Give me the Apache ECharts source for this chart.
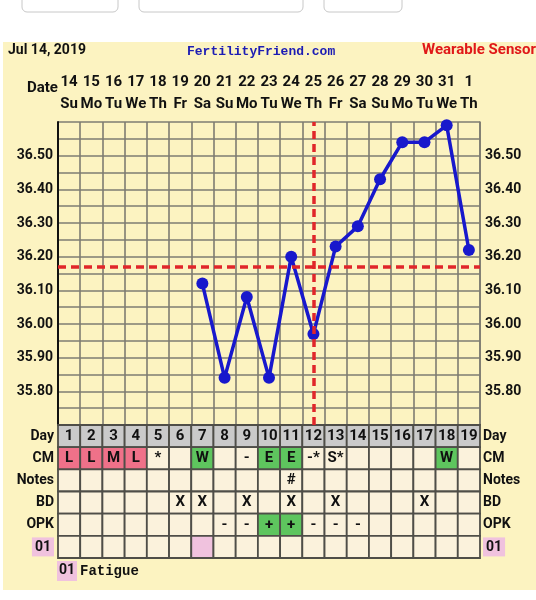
<!DOCTYPE html>
<html>
<head>
<meta charset="utf-8">
<script src="https://cdn.jsdelivr.net/npm/echarts@6.0.0/dist/echarts.min.js"></script>
<style>
html, body { margin: 0; padding: 0; background: #fff; }
#main { width: 536px; height: 600px; }
</style>
</head>
<body>
<div id="main"></div>
<script>
// cycle dates along the top
const dates = ['14', '15', '16', '17', '18', '19', '20', '21', '22', '23', '24', '25', '26', '27', '28', '29', '30', '31', '1'];
const weekdays = ['Su', 'Mo', 'Tu', 'We', 'Th', 'Fr', 'Sa', 'Su', 'Mo', 'Tu', 'We', 'Th', 'Fr', 'Sa', 'Su', 'Mo', 'Tu', 'We', 'Th'];
const cycleDays = ['1', '2', '3', '4', '5', '6', '7', '8', '9', '10', '11', '12', '13', '14', '15', '16', '17', '18', '19'];

// temperatures (°C), null = no reading
const temps = [null, null, null, null, null, null, 36.12, 35.84, 36.08, 35.84, 36.20, 35.97, 36.23, 36.29, 36.43, 36.54, 36.54, 36.59, 36.22];
const tempTicks = ['35.80', '35.90', '36.00', '36.10', '36.20', '36.30', '36.40', '36.50'];
const coverline = 36.17;
const ovulationDay = 12;

// table rows under the chart
const rowNames = ['Day', 'CM', 'Notes', 'BD', 'OPK', '01'];
const cmRow = ['L', 'L', 'M', 'L', '*', '', 'W', '', '-', 'E', 'E', '-*', 'S*', '', '', '', '', 'W', ''];
const notesRow = ['', '', '', '', '', '', '', '', '', '', '#', '', '', '', '', '', '', '', ''];
const bdRow = ['', '', '', '', '', 'X', 'X', '', 'X', '', 'X', '', 'X', '', '', '', 'X', '', ''];
const opkRow = ['', '', '', '', '', '', '', '-', '-', '+', '+', '-', '-', '-', '', '', '', '', ''];
const symptomRow = ['', '', '', '', '', '', '01', '', '', '', '', '', '', '', '', '', '', '', ''];
const symptomNames = { '01': 'Fatigue' };

const BG = '#fcf3c1';
const GRIDLINE = '#7e7c72';
const PINK = '#f0c2de';

function cellFill(row, text) {
  if (row === 0) return '#cacaca';
  if (row === 1 && (text === 'L' || text === 'M')) return '#ef7189';
  if (text === 'W' || text === 'E' || text === '+') return '#5ec55e';
  if (row === 5 && text) return PINK;
  return '#fbf2dc';
}

const rows = [cycleDays, cmRow, notesRow, bdRow, opkRow, symptomRow];
const cells = [];
rows.forEach(function (r, ri) {
  r.forEach(function (t, ci) {
    cells.push({ col: ci, row: ri, text: ri === 5 ? '' : t, fill: cellFill(ri, t) });
  });
});

const boldFont = { fontFamily: 'Roboto', fontWeight: 'bold', fontSize: 14, color: '#111' };

function tempLabel(v) {
  const s = v.toFixed(2);
  return tempTicks.indexOf(s) >= 0 ? s : '';
}

function rowLabel(v) {
  return v === '01' ? '{p|' + v + '}' : '{b|' + v + '}';
}
const rowRich = {
  b: { fontFamily: 'Roboto', fontWeight: 'bold', fontSize: 14, color: '#111' },
  p: { fontFamily: 'Roboto', fontWeight: 'bold', fontSize: 14, color: '#111', backgroundColor: PINK, padding: [3, 3, 2, 3] }
};

const myChart = echarts.init(document.getElementById('main'));
myChart.setOption({
  animation: false,
  backgroundColor: '#fff',
  graphic: [
    { type: 'rect', shape: { x: 3, y: 42, width: 533, height: 548 }, style: { fill: BG }, z: -10 },
    { type: 'rect', shape: { x: 22, y: -10, width: 96, height: 22, r: 5 }, style: { fill: '#fff', stroke: '#c8c8c8', lineWidth: 1 } },
    { type: 'rect', shape: { x: 139, y: -10, width: 164, height: 22, r: 5 }, style: { fill: '#fff', stroke: '#c8c8c8', lineWidth: 1 } },
    { type: 'rect', shape: { x: 324, y: -10, width: 78, height: 22, r: 5 }, style: { fill: '#fff', stroke: '#c8c8c8', lineWidth: 1 } },
    { type: 'text', left: 8, top: 43, style: { text: 'Jul 14, 2019', font: 'bold 14px Roboto', fill: '#111' } },
    { type: 'text', left: 187, top: 45, style: { text: 'FertilityFriend.com', font: 'bold 13px "Liberation Mono"', fill: '#1c1cb4' } },
    { type: 'text', right: 0, top: 43, style: { text: 'Wearable Sensor', font: 'bold 15px Roboto', fill: '#e01818' } },
    { type: 'text', left: 27, top: 81, style: { text: 'Date', font: 'bold 15px Roboto', fill: '#111' } },
    { type: 'rect', shape: { x: 57, y: 561, width: 20, height: 20 }, style: { fill: PINK } },
    { type: 'text', left: 59, top: 563, style: { text: '01', font: 'bold 14px Roboto', fill: '#111' } },
    { type: 'text', left: 80, top: 564, style: { text: symptomNames['01'], font: 'bold 14px "Liberation Mono"', fill: '#111' } }
  ],
  grid: [
    { left: 58, top: 122, width: 422, height: 303, outerBoundsMode: 'none' },
    { left: 58, top: 425, width: 422, height: 133, outerBoundsMode: 'none' }
  ],
  xAxis: [
    {
      gridIndex: 0,
      type: 'category',
      position: 'top',
      data: dates,
      axisLine: { show: false },
      axisTick: { show: false },
      axisLabel: {
        interval: 0,
        margin: 7,
        formatter: function (v, i) { return '{d|' + v + '}\n{w|' + weekdays[i] + '}'; },
        rich: {
          d: { fontFamily: 'Roboto', fontWeight: 'bold', fontSize: 15, color: '#111', lineHeight: 22 },
          w: { fontFamily: 'Roboto', fontWeight: 'bold', fontSize: 15, color: '#111', lineHeight: 22 }
        }
      },
      splitLine: { show: true, interval: 0, lineStyle: { color: GRIDLINE, width: 1.6 } }
    },
    {
      gridIndex: 1,
      type: 'category',
      data: cycleDays,
      show: false
    }
  ],
  yAxis: [
    {
      gridIndex: 0,
      type: 'value',
      min: 35.7,
      max: 36.6,
      interval: 0.05,
      axisLine: { show: true, lineStyle: { color: '#111', width: 2 } },
      axisTick: { show: false },
      axisLabel: Object.assign({ margin: 5, formatter: tempLabel }, boldFont),
      splitLine: { lineStyle: { color: GRIDLINE, width: 1.6 } }
    },
    {
      gridIndex: 0,
      type: 'value',
      position: 'right',
      min: 35.7,
      max: 36.6,
      interval: 0.05,
      axisLine: { show: true, lineStyle: { color: GRIDLINE, width: 1.6 } },
      axisTick: { show: false },
      axisLabel: Object.assign({ margin: 5, formatter: tempLabel }, boldFont),
      splitLine: { show: false }
    },
    {
      gridIndex: 1,
      type: 'category',
      data: rowNames,
      inverse: true,
      axisLine: { show: false },
      axisTick: { show: false },
      axisLabel: { margin: 4, formatter: rowLabel, rich: rowRich }
    },
    {
      gridIndex: 1,
      type: 'category',
      position: 'right',
      data: rowNames,
      inverse: true,
      axisLine: { show: false },
      axisTick: { show: false },
      axisLabel: { margin: 3, formatter: rowLabel, rich: rowRich }
    }
  ],
  series: [
    {
      type: 'line',
      xAxisIndex: 0,
      yAxisIndex: 0,
      data: temps,
      color: '#1818cc',
      lineStyle: { width: 3.5 },
      symbol: 'circle',
      symbolSize: 12,
      markLine: {
        silent: true,
        symbol: ['none', 'none'],
        label: { show: false },
        lineStyle: { color: '#e0262a', type: [8, 5], width: 3.5 },
        data: [
          { yAxis: coverline },
          { xAxis: dates[ovulationDay - 1] }
        ]
      }
    },
    {
      type: 'custom',
      xAxisIndex: 1,
      yAxisIndex: 2,
      data: cells.map(function (c) { return [c.col, c.row]; }),
      renderItem: function (params, api) {
        const cell = cells[params.dataIndex];
        const p = api.coord([api.value(0), api.value(1)]);
        const s = api.size([1, 1]);
        return {
          type: 'rect',
          shape: { x: p[0] - s[0] / 2, y: p[1] - s[1] / 2, width: s[0], height: s[1] },
          style: { fill: cell.fill, stroke: '#4f4e48', lineWidth: 1.8 },
          textContent: {
            style: { text: cell.text, font: 'bold 15px Roboto', fill: '#111' }
          },
          textConfig: { position: 'inside' }
        };
      }
    }
  ]
});
</script>
</body>
</html>
